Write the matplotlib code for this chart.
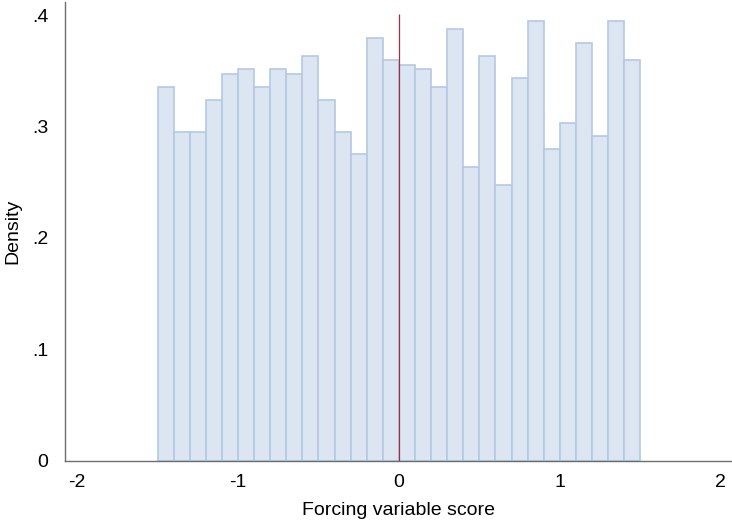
import matplotlib
matplotlib.use("Agg")
import matplotlib.pyplot as plt
import numpy as np

plt.rcParams['font.family'] = ['Liberation Sans', 'DejaVu Sans']

bin_edges_start = -1.5
bin_width = 0.1
densities = [0.3356, 0.2954, 0.2954, 0.3239, 0.3473, 0.3518, 0.3356, 0.3518,
             0.3473, 0.3634, 0.3239, 0.2954, 0.2757, 0.3796, 0.3596,
             0.3553, 0.3518, 0.3356, 0.3874, 0.2636, 0.3634, 0.2478, 0.3434,
             0.3952, 0.2796, 0.3035, 0.3754, 0.2915, 0.3952, 0.3596]
x_ticks = [-2, -1, 0, 1, 2]
x_ticklabels = ["-2", "-1", "0", "1", "2"]
y_ticks = [0, 0.1, 0.2, 0.3, 0.4]
y_ticklabels = ["0", ".1", ".2", ".3", ".4"]
cutoff = 0.0
cutoff_top = 0.401

lefts = bin_edges_start + bin_width * np.arange(len(densities))

fig = plt.figure(figsize=(7.32, 5.20), dpi=100)
ax = fig.add_axes([65/732, 59.5/520, 667/732, 458.5/520])
ax.bar(lefts, densities, width=bin_width, align='edge',
       facecolor='#dce6f2', edgecolor='#b4c9e2', linewidth=1.2)
ax.vlines(cutoff, 0, cutoff_top, color='#a03040', linewidth=0.9, zorder=3)

ax.set_xlim(-2.075, 2.070)
ax.set_ylim(0, 0.412)
ax.set_xticks(x_ticks)
ax.set_xticklabels(x_ticklabels)
ax.set_yticks(y_ticks)
ax.set_yticklabels(y_ticklabels)
ax.tick_params(axis='both', length=0, labelsize=14)
ax.tick_params(axis='x', pad=10)
ax.tick_params(axis='y', pad=12)
for s in ['top', 'right']:
    ax.spines[s].set_visible(False)
for s in ['left', 'bottom']:
    ax.spines[s].set_color('#6e6e6e')
    ax.spines[s].set_linewidth(1.0)
ax.set_xlabel("Forcing variable score", fontsize=14, labelpad=7.5)
ax.set_ylabel("Density", fontsize=14)
ax.yaxis.set_label_coords(-0.066, 0.5)

fig.savefig("out.png", dpi=100)
